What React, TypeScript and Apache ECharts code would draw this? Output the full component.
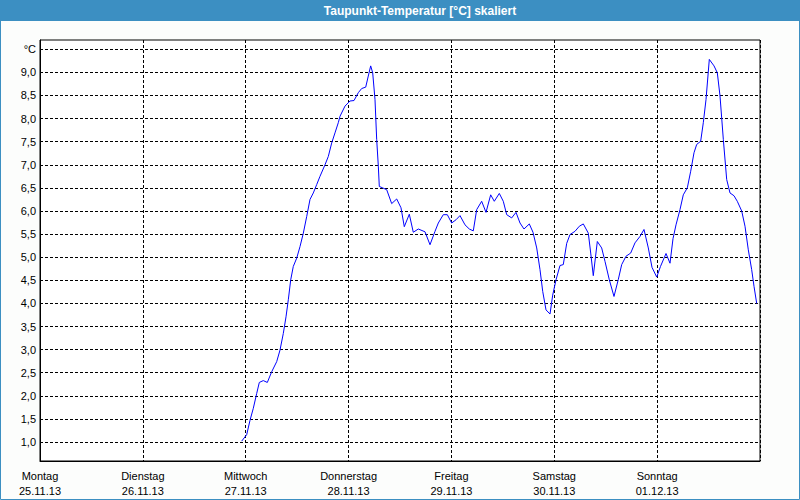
import React, { useEffect, useRef } from "react";
import * as echarts from "echarts";

const dayNames = ["Montag", "Dienstag", "Mittwoch", "Donnerstag", "Freitag", "Samstag", "Sonntag"];
const dayDates = ["25.11.13", "26.11.13", "27.11.13", "28.11.13", "29.11.13", "30.11.13", "01.12.13"];
const yTicks = [1.0, 1.5, 2.0, 2.5, 3.0, 3.5, 4.0, 4.5, 5.0, 5.5, 6.0, 6.5, 7.0, 7.5, 8.0, 8.5, 9.0, 9.5];

// hours since Monday 00:00
const hours = [
  47.06, 48.23, 49.0, 49.77, 50.56, 51.17, 52.1, 53.04, 54.06, 55.23, 56.0, 56.77, 57.4, 57.94, 58.5, 59.1,
  59.9, 60.67, 61.44, 62.23, 63.0, 63.77, 64.56, 65.33, 66.5, 67.27, 68.06, 68.83, 69.6, 70.0, 71.17, 72.33,
  73.27, 74.27, 75.06, 76.0, 76.6, 77.16, 77.63, 78.17, 78.56, 78.94, 79.17, 79.96, 80.9, 82.06, 83.23, 84.23,
  85.0, 86.17, 87.1, 88.27, 89.83, 91.0, 92.17, 92.94, 94.1, 95.04, 96.06, 97.07, 98.0, 99.17, 100.17, 101.1,
  101.9, 103.06, 104.07, 105.16, 106.0, 107.17, 108.1, 108.9, 110.06, 111.07, 112.0, 112.93, 114.17, 115.03,
  115.9, 116.67, 117.3, 118.07, 119.0, 119.63, 120.4, 121.33, 122.1, 122.9, 123.67, 124.83, 125.84, 126.77,
  127.94, 128.5, 129.1, 130.04, 131.06, 131.83, 132.84, 133.93, 134.94, 135.73, 136.73, 137.83, 138.83, 140.0,
  140.93, 141.94, 142.8, 143.9, 144.78, 146.07, 147.0, 147.7, 148.4, 149.33, 150.1, 151.04, 151.83, 152.6,
  153.23, 154.16, 154.77, 155.4, 156.17, 157.27, 158.04, 158.67, 159.44, 160.23, 161.0, 161.93, 162.7, 163.73,
  164.5, 165.27, 166.06, 166.6, 167.23,
];
const dewpoint = [
  1.02, 1.16, 1.47, 1.73, 2.05, 2.29, 2.33, 2.29, 2.52, 2.74, 2.99, 3.35, 3.71, 4.08, 4.51, 4.8,
  4.98, 5.23, 5.52, 5.88, 6.25, 6.39, 6.57, 6.75, 7.0, 7.18, 7.47, 7.69, 7.91, 8.05, 8.27, 8.38,
  8.39, 8.56, 8.65, 8.68, 8.92, 9.14, 8.99, 8.41, 7.55, 6.97, 6.53, 6.5, 6.46, 6.16, 6.26, 6.07,
  5.66, 5.93, 5.54, 5.61, 5.55, 5.27, 5.56, 5.74, 5.92, 5.92, 5.74, 5.81, 5.9, 5.7, 5.61, 5.57,
  6.03, 6.21, 5.97, 6.35, 6.21, 6.38, 6.21, 5.92, 5.85, 5.97, 5.74, 5.61, 5.72, 5.54,
  5.2, 4.73, 4.26, 3.86, 3.77, 4.18, 4.51, 4.82, 4.84, 5.3, 5.49, 5.56, 5.67, 5.72,
  5.52, 5.09, 4.6, 5.34, 5.2, 4.91, 4.51, 4.15, 4.52, 4.84, 5.02, 5.09, 5.31, 5.45,
  5.6, 5.2, 4.78, 4.57, 4.8, 5.08, 4.87, 5.4, 5.7, 6.03, 6.35, 6.5, 6.86, 7.26,
  7.44, 7.51, 7.91, 8.41, 9.28, 9.14, 8.99, 8.49, 7.55, 6.68, 6.39, 6.33, 6.21, 6.0,
  5.67, 5.16, 4.73, 4.37, 4.0,
];

const FONT = "Liberation Sans";

export default function App() {
  const ref = useRef<HTMLDivElement>(null);
  useEffect(() => {
    if (!ref.current) return;
    const chart = echarts.init(ref.current, undefined, { renderer: "svg" });
    const data = hours.map((h, i) => [h, dewpoint[i]]);
    chart.setOption({
      animation: false,
      backgroundColor: "#fcfdfc",
      graphic: [
        {
          type: "rect",
          shape: { x: 0.5, y: 0.5, width: 799, height: 499 },
          style: { fill: "none", stroke: "#3c8fc2", lineWidth: 1 },
          z: 10,
        },
        {
          type: "rect",
          shape: { x: 0, y: 0, width: 800, height: 21 },
          style: { fill: "#3c8fc2" },
          z: 11,
        },
        {
          type: "text",
          x: 420,
          y: 11,
          style: {
            text: "Taupunkt-Temperatur [°C] skaliert",
            fill: "#ffffff",
            font: `bold 12px "${FONT}"`,
            align: "center",
            verticalAlign: "middle",
          },
          z: 12,
        },
      ],
      grid: {
        left: 40,
        right: 40,
        top: 40,
        bottom: 39,
        show: true,
        backgroundColor: "#ffffff",
        borderColor: "#000000",
        borderWidth: 1,
        containLabel: false,
      },
      xAxis: {
        type: "value",
        min: 0,
        max: 168,
        interval: 24,
        axisLine: { show: true, lineStyle: { color: "#000" } },
        axisTick: { show: false },
        splitLine: { show: true, lineStyle: { color: "#000", type: [3, 2], width: 1 } },
        axisLabel: {
          margin: 7,
          color: "#000",
          fontFamily: FONT,
          fontSize: 11,
          lineHeight: 15,
          showMaxLabel: false,
          formatter: (v: number) => {
            const i = Math.round(v / 24);
            if (i >= dayNames.length) return "";
            return dayNames[i] + "\n" + dayDates[i];
          },
        },
      },
      yAxis: {
        type: "value",
        min: 0.59,
        max: 9.7,
        axisLine: { show: true, lineStyle: { color: "#000" } },
        axisTick: { show: false, customValues: yTicks },
        splitLine: { show: true, lineStyle: { color: "#000", type: [3, 2], width: 1 } },
        axisLabel: {
          customValues: yTicks,
          margin: 4,
          color: "#000",
          fontFamily: FONT,
          fontSize: 11,
          formatter: (v: number) => (Math.abs(v - 9.5) < 1e-6 ? "°C" : v.toFixed(1).replace(".", ",")),
        },
      },
      series: [
        {
          type: "line",
          data,
          showSymbol: false,
          symbol: "none",
          lineStyle: { color: "#0000ff", width: 1 },
          z: 5,
        },
      ],
    });
    return () => chart.dispose();
  }, []);
  return (
    <div
      ref={ref}
      style={{ position: "fixed", left: 0, top: 0, width: 800, height: 500 }}
    />
  );
}
